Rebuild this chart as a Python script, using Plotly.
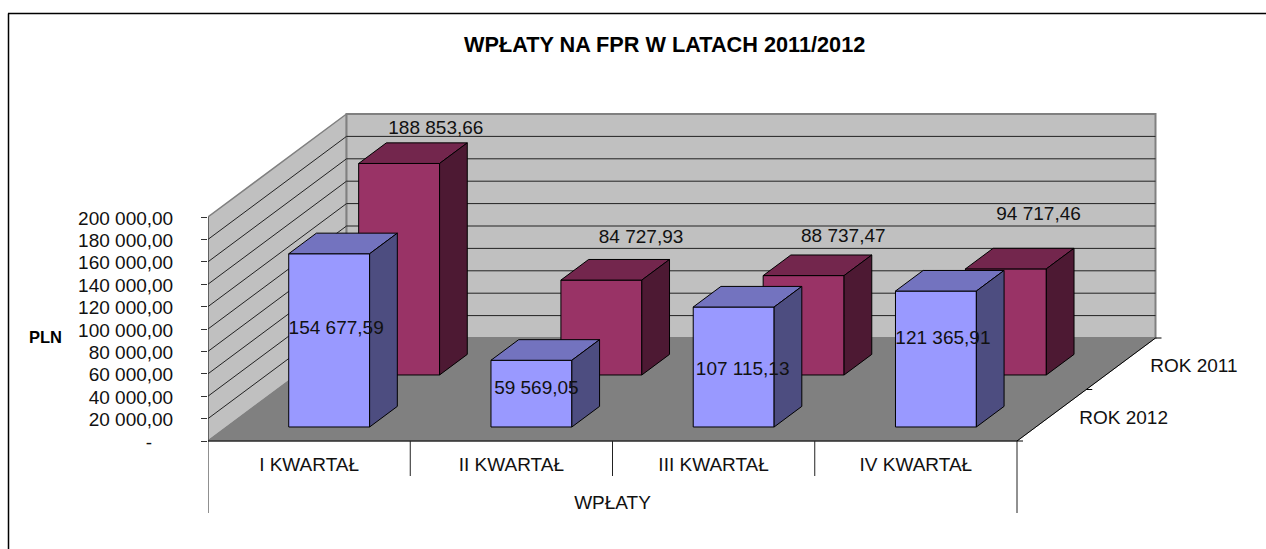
import plotly.graph_objects as go

# ---- data -------------------------------------------------------------
categories = ["I KWARTAŁ", "II KWARTAŁ", "III KWARTAŁ", "IV KWARTAŁ"]
group_label = "WPŁATY"
series_names = ["ROK 2012", "ROK 2011"]
rok_2012 = [154677.59, 59569.05, 107115.13, 121365.91]
rok_2011 = [188853.66, 84727.93, 88737.47, 94717.46]
rok_2012_labels = ["154 677,59", "59 569,05", "107 115,13", "121 365,91"]
rok_2011_labels = ["188 853,66", "84 727,93", "88 737,47", "94 717,46"]
y_ticks = [0, 20000, 40000, 60000, 80000, 100000, 120000, 140000, 160000, 180000, 200000]
y_tick_labels = ["-" + "\u00a0" * 4, "20 000,00", "40 000,00", "60 000,00", "80 000,00",
                 "100 000,00", "120 000,00", "140 000,00", "160 000,00", "180 000,00", "200 000,00"]

# ---- geometry of the oblique projection --------------------------------
W, H = 1266, 549
X0, Y0 = 208, 441            # origin in pixels
PX_CAT = 202.25              # pixels per category
PX_VAL = 224 / 200000        # pixels per unit of value
DEPTH_PX = (138.5, 103)      # pixel shift of the full depth
DX = DEPTH_PX[0] / PX_CAT
DY = DEPTH_PX[1] / PX_VAL
Y_MAX = max(y_ticks)
N = len(categories)
FONT = "Liberation Sans"
TEXT_SIZE = 19


def px_y(p):
    """Pixel offset to value units."""
    return p / PX_VAL


def px_x(p):
    return p / PX_CAT


def proj(c, d, v):
    return c + d * DX, v + d * DY


def poly(points):
    xs, ys = zip(*[proj(*p) for p in points])
    return list(xs) + [xs[0]], list(ys) + [ys[0]]


def add_poly(fig, xs, ys, fill, line="black", width=1):
    fig.add_trace(go.Scatter(x=xs, y=ys, mode="lines", fill="toself", fillcolor=fill,
                             line=dict(color=line, width=width), hoverinfo="skip", showlegend=False))


def add_line(fig, pts, color="black", width=1):
    xs, ys = zip(*[proj(*p) for p in pts])
    fig.add_trace(go.Scatter(x=xs, y=ys, mode="lines", line=dict(color=color, width=width),
                             hoverinfo="skip", showlegend=False))


def add_text(fig, x, y, text, size=TEXT_SIZE):
    fig.add_trace(go.Scatter(x=x, y=y, mode="text", text=text, textposition="middle center",
                             textfont=dict(family=FONT, size=size, color="#111"),
                             hoverinfo="skip", showlegend=False, cliponaxis=False))


fig = go.Figure()
GRAY, WALL, FLOOR = "#808080", "#C0C0C0", "#808080"

# walls
xs, ys = poly([(0, 0, 0), (0, 1, 0), (0, 1, Y_MAX), (0, 0, Y_MAX)])
add_poly(fig, xs, ys, WALL, GRAY, 1.5)
xs, ys = poly([(0, 1, 0), (N, 1, 0), (N, 1, Y_MAX), (0, 1, Y_MAX)])
add_poly(fig, xs, ys, WALL, GRAY, 2)

# gridlines
for t in y_ticks[1:-1]:
    add_line(fig, [(0, 0, t), (0, 1, t), (N, 1, t)], "#222222", 1)

# floor
xs, ys = poly([(0, 0, 0), (N, 0, 0), (N, 1, 0), (0, 1, 0)])
add_poly(fig, xs, ys, FLOOR, GRAY, 1)

# axes on the floor edges
add_line(fig, [(0, 0, 0), (0, 0, Y_MAX)], "#333333", 1)
add_line(fig, [(0, 0, 0), (N, 0, 0), (N, 1, 0)], "black", 1)

# ticks of the depth axis
for d in (0, 0.5, 1):
    c, v = proj(N, d, 0)
    fig.add_trace(go.Scatter(x=[c, c + px_x(6)], y=[v, v], mode="lines", line=dict(color="black", width=1),
                             hoverinfo="skip", showlegend=False))

# multi-level category axis
for i in range(N + 1):
    low = -72 if i in (0, N) else -35
    add_line(fig, [(i, 0, 0), (i, 0, px_y(low))], "#222222", 1)

add_text(fig, [i + 0.5 for i in range(N)], [px_y(-25)] * N, categories)
add_text(fig, [N / 2], [px_y(-63)], [group_label])

# depth axis labels
c, v = proj(N, 0.25, 0)
add_text(fig, [c + px_x(72)], [v + px_y(-4)], [series_names[0]])
c, v = proj(N, 0.75, 0)
add_text(fig, [c + px_x(73)], [v + px_y(-3)], [series_names[1]])


def bars(values, d0, d1, front, top, side):
    fx, fy, tx, ty, sx, sy = [], [], [], [], [], []
    for i, val in enumerate(values):
        a, b = i + 0.306, i + 0.706
        for xs_, ys_, pts in (
            (fx, fy, [(a, d0, 0), (b, d0, 0), (b, d0, val), (a, d0, val)]),
            (tx, ty, [(a, d0, val), (b, d0, val), (b, d1, val), (a, d1, val)]),
            (sx, sy, [(b, d0, 0), (b, d1, 0), (b, d1, val), (b, d0, val)]),
        ):
            px, py = poly(pts)
            xs_ += px + [None]
            ys_ += py + [None]
    add_poly(fig, fx, fy, front)
    add_poly(fig, tx, ty, top)
    add_poly(fig, sx, sy, side)


BACK_D = (0.641, 0.841)
FRONT_D = (0.136, 0.336)

bars(rok_2011, *BACK_D, "#993366", "#73264D", "#4D1933")
back_off = [(9, 14), (12, 21), (12, 18), (5, 33)]
lx, ly = [], []
for i, (val, (ox, oy)) in enumerate(zip(rok_2011, back_off)):
    c, v = proj(i + 0.506, BACK_D[1], val)
    lx.append(c + px_x(ox))
    ly.append(v + px_y(oy))
add_text(fig, lx, ly, rok_2011_labels)

bars(rok_2012, *FRONT_D, "#9999FF", "#7373BF", "#4D4D80")
front_off = [(7, 11), (5, 4), (9, -3), (7, 20)]
lx, ly = [], []
for i, (val, (ox, oy)) in enumerate(zip(rok_2012, front_off)):
    c, v = proj(i + 0.506, FRONT_D[0], val / 2)
    lx.append(c + px_x(ox))
    ly.append(v + px_y(oy))
add_text(fig, lx, ly, rok_2012_labels)

fig.update_layout(
    width=W, height=H, margin=dict(l=0, r=0, t=0, b=0), showlegend=False,
    paper_bgcolor="white", plot_bgcolor="rgba(0,0,0,0)",
    font=dict(family=FONT, size=TEXT_SIZE, color="#111"),
    xaxis=dict(domain=[X0 / W, 1], range=[0, (W - X0) / PX_CAT], visible=False),
    yaxis=dict(domain=[0, 1], range=[-(H - Y0) / PX_VAL, Y0 / PX_VAL], showgrid=False, zeroline=False,
               showline=False, tickmode="array", tickvals=y_ticks, ticktext=y_tick_labels,
               ticks="outside", ticklen=6, tickcolor="#333333", ticklabelstandoff=24, ticklabelshift=1,
               tickfont=dict(family=FONT, size=TEXT_SIZE, color="#111")),
    shapes=[
        dict(type="line", xref="paper", yref="paper", x0=8 / W, x1=1, y0=1 - 13.5 / H, y1=1 - 13.5 / H,
             line=dict(color="black", width=1.5)),
        dict(type="line", xref="paper", yref="paper", x0=8.5 / W, x1=8.5 / W, y0=0, y1=1 - 13.5 / H,
             line=dict(color="black", width=1.5)),
    ],
    annotations=[
        dict(text="<b>WPŁATY NA FPR W LATACH 2011/2012</b>", xref="paper", yref="paper",
             x=664.5 / W, y=1 - 45 / H, showarrow=False, xanchor="center", yanchor="middle",
             font=dict(family=FONT, size=21.7, color="black")),
        dict(text="<b>PLN</b>", xref="paper", yref="paper", x=45.5 / W, y=1 - 337 / H, showarrow=False,
             xanchor="center", yanchor="middle", font=dict(family=FONT, size=16.5, color="black")),
    ],
)
fig.write_html("out.html", post_script="document.body.style.margin='0';document.body.style.overflow='hidden';",
               config=dict(displayModeBar=False))
